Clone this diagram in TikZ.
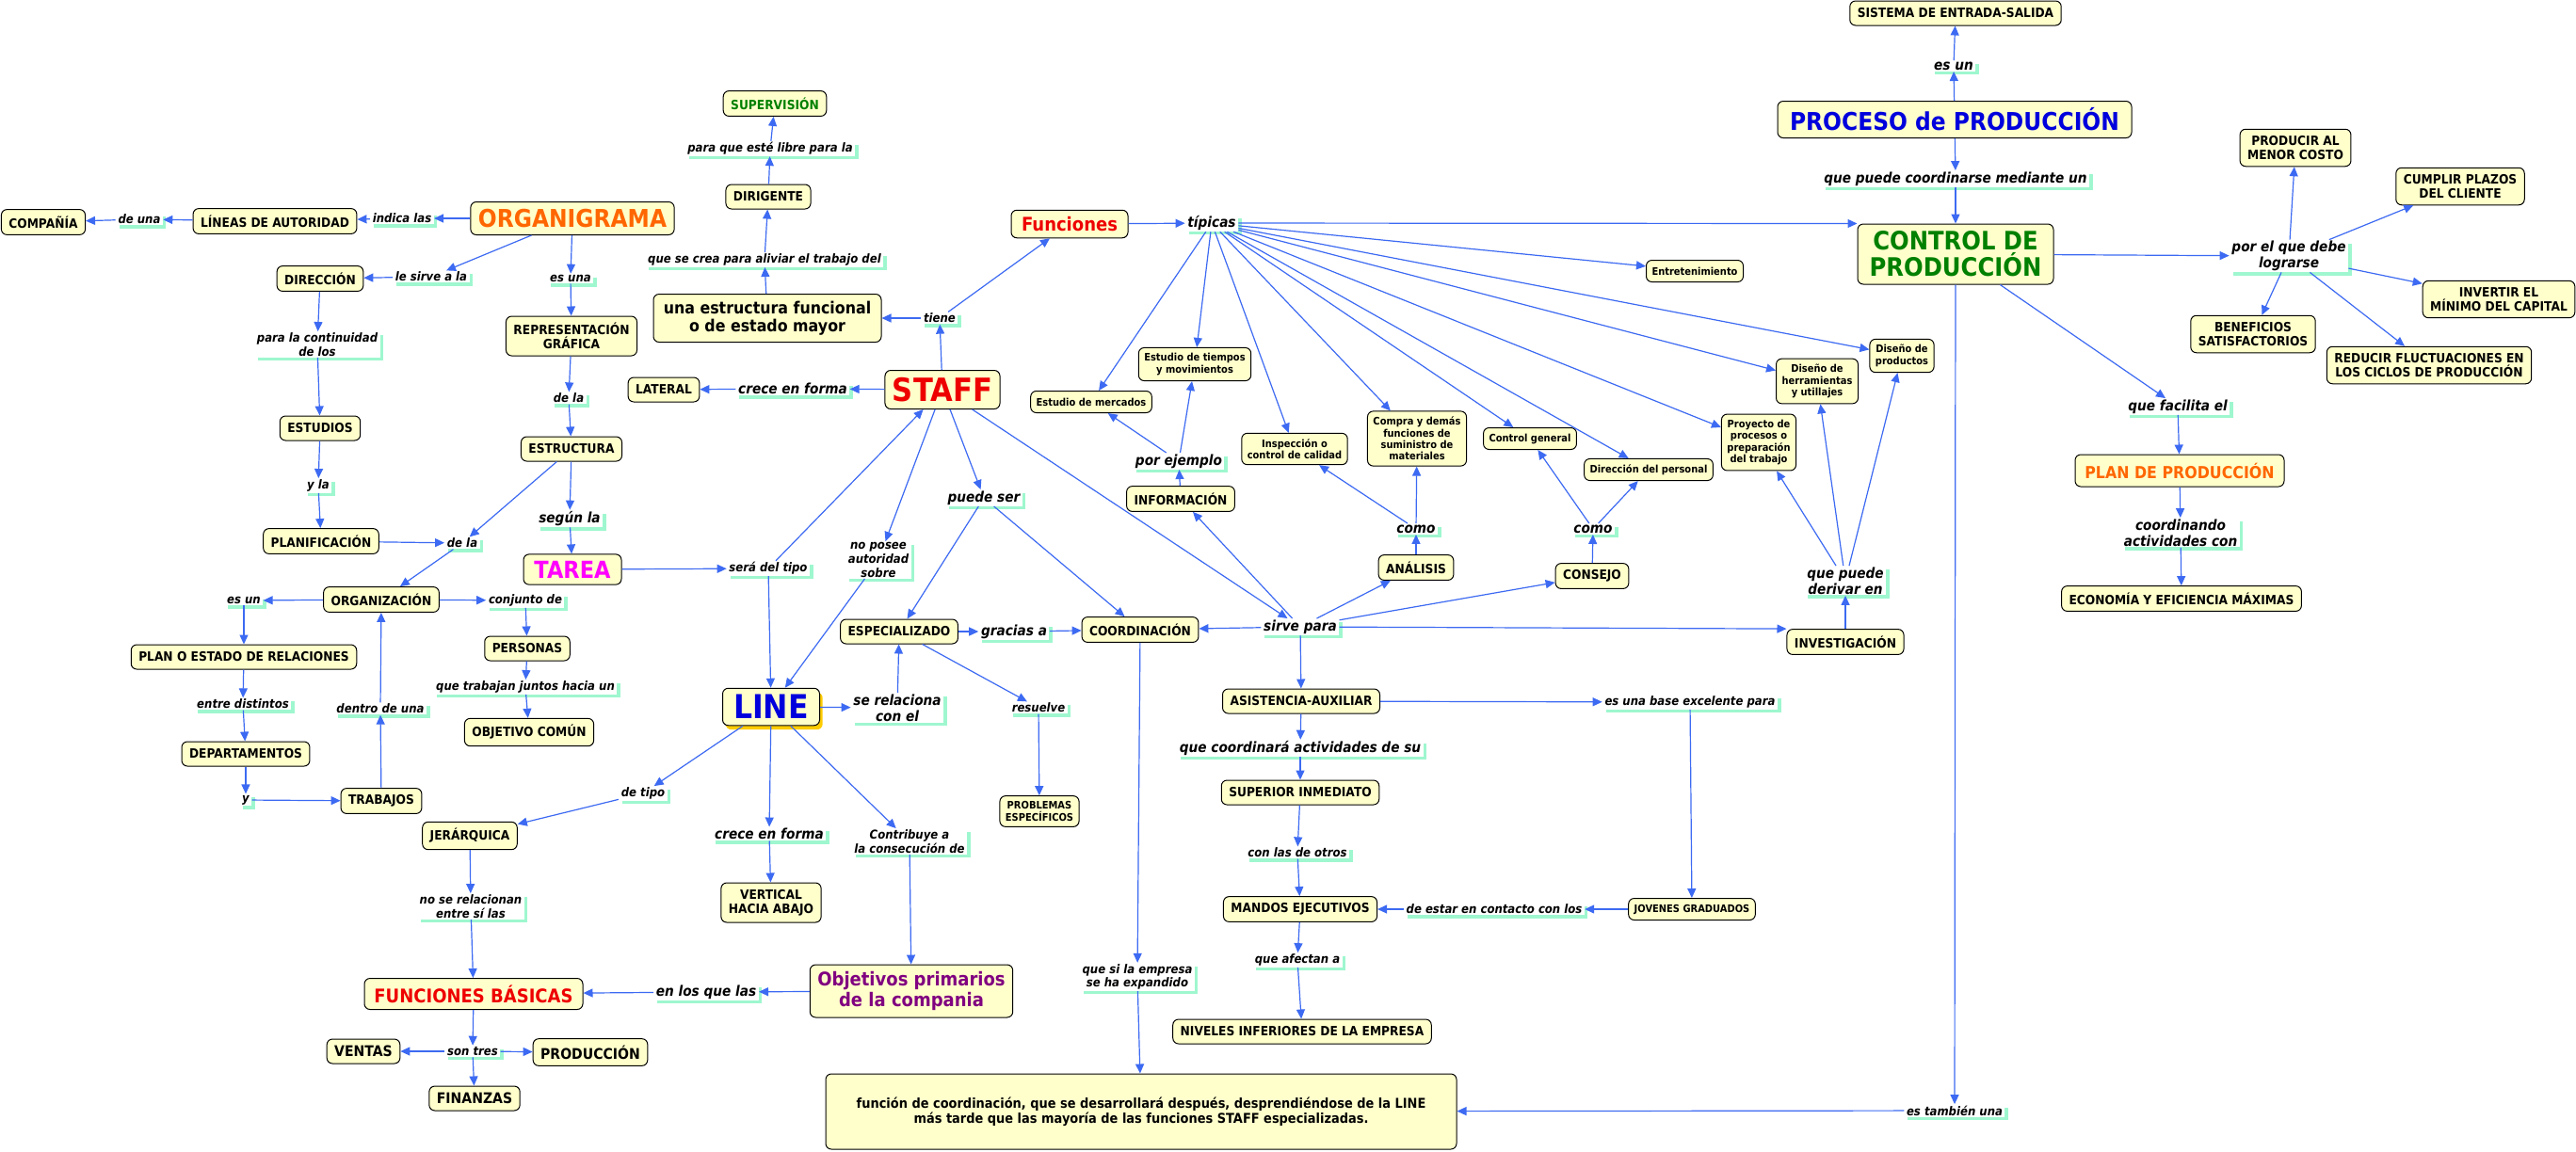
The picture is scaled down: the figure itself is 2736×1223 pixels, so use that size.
\documentclass[tikz,border=0pt]{standalone}
\usepackage{fontspec}
\setmainfont{DejaVu Sans}[FakeStretch=0.9]
\usepackage{xcolor}
\usepackage{tikz}
\usetikzlibrary{arrows.meta,shadows}
\definecolor{conc}{HTML}{FFFFCC}
\definecolor{mintc}{HTML}{9FF7CF}
\definecolor{arrc}{HTML}{3D6AF2}
\definecolor{orgc}{HTML}{FF6600}
\definecolor{redc}{HTML}{EE0000}
\definecolor{bluec}{HTML}{0000DD}
\definecolor{greenc}{HTML}{008000}
\definecolor{tareac}{HTML}{FF00FF}
\definecolor{objc}{HTML}{800080}
\definecolor{goldc}{HTML}{FFCC00}

\begin{document}
\begin{tikzpicture}[
    x=0.5pt, y=-0.5pt,
    concept/.style={
      draw, line width=0.5pt, fill=conc, rounded corners=3pt, align=center,
      inner xsep=4pt, inner ysep=3.5pt, minimum height=13pt,
      font=\bfseries\fontsize{6.8}{7.6}\selectfont},
    minor/.style={
      concept, inner xsep=3pt, inner ysep=3pt, minimum height=11.5pt,
      font=\bfseries\fontsize{5.5}{6.2}\selectfont},
    link/.style={
      fill=white, align=center, inner xsep=1.2pt, inner ysep=0.6pt,
      font=\bfseries\itshape\fontsize{6.5}{7.3}\selectfont,
      drop shadow={shadow xshift=1.8pt, shadow yshift=-1.8pt, fill=mintc, opacity=1}},
    biglink/.style={link, font=\bfseries\itshape\fontsize{7.6}{8.4}\selectfont},
    rel/.style={draw=arrc, line width=0.6pt, -{Triangle[length=5pt, width=4.5pt]}}
  ]
  \useasboundingbox[fill=white] (0,0) rectangle (2736,1223);

  % --- organigrama
  \node[concept, text=orgc, font=\bfseries\fontsize{13}{14}\selectfont, minimum height=17.5pt]
    (organigrama) at (608,232) {ORGANIGRAMA};
  \node[link] (indica) at (427,232) {indica las};
  \node[concept] (lineas) at (292,235) {LÍNEAS DE AUTORIDAD};
  \node[link] (deuna) at (148,233) {de una};
  \node[concept] (compania) at (46,236) {COMPAÑÍA};
  \node[link] (lesirve) at (458,294) {le sirve a la};
  \node[concept] (direccion) at (340,296) {DIRECCIÓN};
  \node[link] (esuna) at (606,296) {es una};
  \node[concept] (representacion) at (607,357) {REPRESENTACIÓN\\GRÁFICA};
  \node[link] (dela1) at (604,423) {de la};
  \node[concept] (estructura) at (607,477) {ESTRUCTURA};
  \node[biglink] (segun) at (605,551) {según la};
  \node[concept, text=tareac, font=\bfseries\fontsize{12.5}{13.5}\selectfont,
    minimum width=52pt, minimum height=16pt] (tarea) at (608,605) {TAREA};
  \node[link] (continuidad) at (337,366) {para la continuidad\\de los};
  \node[concept] (estudios) at (340,455) {ESTUDIOS};
  \node[link] (yla) at (338,516) {y la};
  \node[concept] (planificacion) at (341,575) {PLANIFICACIÓN};
  \node[link] (dela2) at (491,577) {de la};
  \node[concept] (organizacion) at (405,637) {ORGANIZACIÓN};
  \node[link] (esun2) at (259,638) {es un};
  \node[concept] (planrel) at (259,698) {PLAN O ESTADO DE RELACIONES};
  \node[link] (entre) at (258,748) {entre distintos};
  \node[concept] (departamentos) at (261,801) {DEPARTAMENTOS};
  \node[link] (yy) at (261,850) {y};
  \node[concept] (trabajos) at (405,851) {TRABAJOS};
  \node[link] (dentro) at (404,753) {dentro de una};
  \node[link] (conjunto) at (558,638) {conjunto de};
  \node[concept] (personas) at (560,689) {PERSONAS};
  \node[link] (trabajan) at (558,730) {que trabajan juntos hacia un};
  \node[concept] (objcomun) at (562,778) {OBJETIVO COMÚN};

  % --- staff
  \node[concept, text=redc, font=\bfseries\fontsize{17}{18}\selectfont, minimum height=20.5pt]
    (staff) at (1001,414) {STAFF};
  \node[link] (tiene) at (998,338) {tiene};
  \node[concept, font=\bfseries\fontsize{8.8}{9.7}\selectfont, minimum width=121pt,
    minimum height=25.5pt] (estructfun) at (815,338) {una estructura funcional\\o de estado mayor};
  \node[link] (aliviar) at (812,276) {que se crea para aliviar el trabajo del};
  \node[concept] (dirigente) at (816,209) {DIRIGENTE};
  \node[link] (libre) at (818,158) {para que esté libre para la};
  \node[concept, text=greenc] (supervision) at (823,110) {SUPERVISIÓN};
  \node[biglink] (crecelat) at (842,413) {crece en forma};
  \node[concept] (lateral) at (705,414) {LATERAL};
  \node[biglink] (puedeser) at (1045,529) {puede ser};
  \node[link] (noposee) at (933,595) {no posee\\autoridad\\sobre};
  \node[concept] (especializado) at (955,671) {ESPECIALIZADO};
  \node[biglink] (gracias) at (1077,671) {gracias a};
  \node[concept] (coordinacion) at (1211,669) {COORDINACIÓN};
  \node[biglink] (sirve) at (1381,666) {sirve para};
  \node[concept] (informacion) at (1254,530) {INFORMACIÓN};
  \node[biglink] (porejemplo) at (1252,490) {por ejemplo};
  \node[concept] (analisis) at (1504,603) {ANÁLISIS};
  \node[biglink] (como1) at (1504,562) {como};
  \node[concept] (consejo) at (1691,612) {CONSEJO};
  \node[biglink] (como2) at (1692,562) {como};
  \node[concept] (investigacion) at (1960,682) {INVESTIGACIÓN};
  \node[biglink] (derivar) at (1960,617) {que puede\\derivar en};
  \node[link] (resuelve) at (1103,752) {resuelve};
  \node[minor] (problemas) at (1104,862) {PROBLEMAS\\ESPECÍFICOS};
  \node[link] (quesi) at (1208,1038) {que si la empresa\\se ha expandido};
  \node[concept, font=\bfseries\fontsize{7.2}{8}\selectfont, minimum width=335pt,
    minimum height=40pt] (funcion) at (1212,1181)
    {función de coordinación, que se desarrollará después, desprendiéndose de la LINE\\más tarde que las mayoría de las funciones STAFF especializadas.};
  \node[concept] (asistencia) at (1382,745) {ASISTENCIA-AUXILIAR};
  \node[link] (basexc) at (1795,746) {es una base excelente para};
  \node[minor] (jovenes) at (1797,966) {JOVENES GRADUADOS};
  \node[link] (contacto) at (1587,966) {de estar en contacto con los};
  \node[biglink] (coordinara) at (1381,795) {que coordinará actividades de su};
  \node[concept] (superior) at (1381,842) {SUPERIOR INMEDIATO};
  \node[link] (conlas) at (1378,906) {con las de otros};
  \node[concept] (mandos) at (1381,966) {MANDOS EJECUTIVOS};
  \node[link] (afectan) at (1378,1020) {que afectan a};
  \node[concept] (niveles) at (1383,1096) {NIVELES INFERIORES DE LA EMPRESA};

  % --- funciones tipicas
  \node[concept, text=redc, font=\bfseries\fontsize{10}{11}\selectfont, minimum width=62pt,
    minimum height=14.5pt] (funciones) at (1136,238) {Funciones};
  \node[biglink] (tipicas) at (1287,237) {típicas};
  \node[minor] (entret) at (1800,288) {Entretenimiento};
  \node[minor] (disprod) at (2020,378) {Diseño de\\productos};
  \node[minor] (disherr) at (1930,405) {Diseño de\\herramientas\\y utillajes};
  \node[minor] (proyecto) at (1868,470) {Proyecto de\\procesos o\\preparación\\del trabajo};
  \node[minor] (dirpers) at (1751,499) {Dirección del personal};
  \node[minor] (ctrlgen) at (1625,466) {Control general};
  \node[minor] (compra) at (1505,466) {Compra y demás\\funciones de\\suministro de\\materiales};
  \node[minor] (inspeccion) at (1375,477) {Inspección o\\control de calidad};
  \node[minor] (tiempos) at (1269,387) {Estudio de tiempos\\y movimientos};
  \node[minor] (mercados) at (1159,427) {Estudio de mercados};

  % --- line
  \node[link] (seratipo) at (816,604) {será del tipo};
  \node[concept, text=bluec, font=\bfseries\fontsize{17.5}{18.5}\selectfont,
    minimum width=51.5pt, minimum height=19pt,
    drop shadow={shadow xshift=1.6pt, shadow yshift=-2.2pt, fill=goldc, opacity=1}]
    (lineb) at (819,751) {LINE};
  \node[biglink] (serelaciona) at (953,752) {se relaciona\\con el};
  \node[link] (detipo) at (683,843) {de tipo};
  \node[concept] (jerarquica) at (499,888) {JERÁRQUICA};
  \node[link] (noserel) at (500,963) {no se relacionan\\entre sí las};
  \node[concept, text=redc, font=\bfseries\fontsize{10}{11}\selectfont, minimum width=116pt,
    minimum height=16.5pt] (funbas) at (503,1056) {FUNCIONES BÁSICAS};
  \node[link] (sontres) at (502,1117) {son tres};
  \node[concept, font=\bfseries\fontsize{7.8}{8.6}\selectfont] (ventas) at (386,1117) {VENTAS};
  \node[concept, font=\bfseries\fontsize{7.8}{8.6}\selectfont] (produccion) at (627,1118) {PRODUCCIÓN};
  \node[concept, font=\bfseries\fontsize{7.8}{8.6}\selectfont] (finanzas) at (504,1167) {FINANZAS};
  \node[biglink] (crecevert) at (817,886) {crece en forma};
  \node[concept] (vertical) at (819,959) {VERTICAL\\HACIA ABAJO};
  \node[link] (contribuye) at (966,894) {Contribuye a\\la consecución de};
  \node[concept, text=objc, font=\bfseries\fontsize{10}{11.3}\selectfont, minimum width=107pt,
    minimum height=27pt] (objetivos) at (968,1053) {Objetivos primarios\\de la compania};
  \node[biglink] (enlosque) at (750,1054) {en los que las};

  % --- proceso de produccion
  \node[concept] (sistema) at (2077,14) {SISTEMA DE ENTRADA-SALIDA};
  \node[biglink] (esun1) at (2075,70) {es un};
  \node[concept, text=bluec, font=\bfseries\fontsize{13}{14}\selectfont, minimum width=188pt,
    minimum height=19.5pt] (proceso) at (2076,127) {PROCESO de PRODUCCIÓN};
  \node[biglink] (puedecoord) at (2077,190) {que puede coordinarse mediante un};
  \node[concept, text=greenc, font=\bfseries\fontsize{13.5}{14}\selectfont, minimum width=104pt,
    minimum height=32pt] (control) at (2077,270) {CONTROL DE\\PRODUCCIÓN};
  \node[biglink] (porelque) at (2431,272) {por el que debe\\lograrse};
  \node[concept] (producir) at (2438,157) {PRODUCIR AL\\MENOR COSTO};
  \node[concept] (cumplir) at (2613,198) {CUMPLIR PLAZOS\\DEL CLIENTE};
  \node[concept] (invertir) at (2654,318) {INVERTIR EL\\MÍNIMO DEL CAPITAL};
  \node[concept] (beneficios) at (2393,355) {BENEFICIOS\\SATISFACTORIOS};
  \node[concept] (reducir) at (2580,388) {REDUCIR FLUCTUACIONES EN\\LOS CICLOS DE PRODUCCIÓN};
  \node[biglink] (facilita) at (2313,432) {que facilita el};
  \node[concept, text=orgc, font=\bfseries\fontsize{8.8}{9.6}\selectfont, minimum width=111pt,
    minimum height=17pt] (planprod) at (2315,500) {PLAN DE PRODUCCIÓN};
  \node[biglink] (coordinando) at (2316,566) {coordinando\\actividades con};
  \node[concept] (economia) at (2317,636) {ECONOMÍA Y EFICIENCIA MÁXIMAS};
  \node[link] (tambien) at (2076,1180) {es también una};

  % --- flows: organigrama
  \draw[rel] (organigrama) -- (indica);
  \draw[rel] (indica) -- (lineas);
  \draw[rel] (lineas) -- (deuna);
  \draw[rel] (deuna) -- (compania);
  \draw[rel] (organigrama) -- (lesirve);
  \draw[rel] (lesirve) -- (direccion);
  \draw[rel] (organigrama) -- (esuna);
  \draw[rel] (esuna) -- (representacion);
  \draw[rel] (representacion) -- (dela1);
  \draw[rel] (dela1) -- (estructura);
  \draw[rel] (estructura) -- (segun);
  \draw[rel] (segun) -- (tarea);
  \draw[rel] (estructura) -- (dela2);
  \draw[rel] (planificacion) -- (dela2);
  \draw[rel] (dela2) -- (organizacion);
  \draw[rel] (direccion) -- (continuidad);
  \draw[rel] (continuidad) -- (estudios);
  \draw[rel] (estudios) -- (yla);
  \draw[rel] (yla) -- (planificacion);
  \draw[rel] (organizacion) -- (esun2);
  \draw[rel] (esun2) -- (planrel);
  \draw[rel] (planrel) -- (entre);
  \draw[rel] (entre) -- (departamentos);
  \draw[rel] (departamentos) -- (yy);
  \draw[rel] (yy) -- (trabajos);
  \draw[rel] (trabajos) -- (dentro);
  \draw[rel] (dentro) -- (organizacion);
  \draw[rel] (organizacion) -- (conjunto);
  \draw[rel] (conjunto) -- (personas);
  \draw[rel] (personas) -- (trabajan);
  \draw[rel] (trabajan) -- (objcomun);
  \draw[rel] (tarea) -- (seratipo);
  \draw[rel] (seratipo) -- (staff);
  \draw[rel] (seratipo) -- (lineb);

  % --- flows: staff
  \draw[rel] (staff) -- (tiene);
  \draw[rel] (tiene) -- (estructfun);
  \draw[rel] (tiene) -- (funciones);
  \draw[rel] (estructfun) -- (aliviar);
  \draw[rel] (aliviar) -- (dirigente);
  \draw[rel] (dirigente) -- (libre);
  \draw[rel] (libre) -- (supervision);
  \draw[rel] (staff) -- (crecelat);
  \draw[rel] (crecelat) -- (lateral);
  \draw[rel] (staff) -- (noposee);
  \draw[rel] (noposee) -- (lineb);
  \draw[rel] (staff) -- (puedeser);
  \draw[rel] (puedeser) -- (especializado);
  \draw[rel] (puedeser) -- (coordinacion);
  \draw[rel] (staff) -- (sirve);
  \draw[rel] (sirve) -- (coordinacion);
  \draw[rel] (sirve) -- (informacion);
  \draw[rel] (sirve) -- (analisis);
  \draw[rel] (sirve) -- (consejo);
  \draw[rel] (sirve) -- (investigacion.north west);
  \draw[rel] (sirve) -- (asistencia);
  \draw[rel] (especializado) -- (gracias);
  \draw[rel] (gracias) -- (coordinacion);
  \draw[rel] (especializado) -- (resuelve);
  \draw[rel] (resuelve) -- (problemas);
  \draw[rel] (coordinacion) -- (quesi);
  \draw[rel] (quesi) -- (funcion);
  \draw[rel] (informacion) -- (porejemplo);
  \draw[rel] (porejemplo) -- (mercados);
  \draw[rel] (porejemplo) -- (tiempos);
  \draw[rel] (analisis) -- (como1);
  \draw[rel] (como1) -- (inspeccion);
  \draw[rel] (como1) -- (compra);
  \draw[rel] (consejo) -- (como2);
  \draw[rel] (como2) -- (ctrlgen);
  \draw[rel] (como2) -- (dirpers);
  \draw[rel] (investigacion) -- (derivar);
  \draw[rel] (derivar) -- (proyecto);
  \draw[rel] (derivar) -- (disherr);
  \draw[rel] (derivar) -- (disprod);
  \draw[rel] (asistencia) -- (basexc);
  \draw[rel] (basexc) -- (jovenes);
  \draw[rel] (jovenes) -- (contacto);
  \draw[rel] (contacto) -- (mandos);
  \draw[rel] (asistencia) -- (coordinara);
  \draw[rel] (coordinara) -- (superior);
  \draw[rel] (superior) -- (conlas);
  \draw[rel] (conlas) -- (mandos);
  \draw[rel] (mandos) -- (afectan);
  \draw[rel] (afectan) -- (niveles);

  % --- flows: funciones tipicas
  \draw[rel] (funciones) -- (tipicas);
  \draw[rel] (tipicas) -- (mercados);
  \draw[rel] (tipicas) -- (tiempos);
  \draw[rel] (tipicas) -- (inspeccion);
  \draw[rel] (tipicas) -- (compra);
  \draw[rel] (tipicas) -- (ctrlgen);
  \draw[rel] (tipicas) -- (dirpers);
  \draw[rel] (tipicas) -- (proyecto);
  \draw[rel] (tipicas) -- (disherr);
  \draw[rel] (tipicas) -- (disprod);
  \draw[rel] (tipicas) -- (entret);
  \draw[rel] (tipicas) -- (control.north west);

  % --- flows: line
  \draw[rel] (lineb) -- (serelaciona);
  \draw[rel] (serelaciona) -- (especializado);
  \draw[rel] (lineb) -- (detipo);
  \draw[rel] (detipo) -- (jerarquica);
  \draw[rel] (jerarquica) -- (noserel);
  \draw[rel] (noserel) -- (funbas);
  \draw[rel] (funbas) -- (sontres);
  \draw[rel] (sontres) -- (ventas);
  \draw[rel] (sontres) -- (produccion);
  \draw[rel] (sontres) -- (finanzas);
  \draw[rel] (lineb) -- (crecevert);
  \draw[rel] (crecevert) -- (vertical);
  \draw[rel] (lineb) -- (contribuye);
  \draw[rel] (contribuye) -- (objetivos);
  \draw[rel] (objetivos) -- (enlosque);
  \draw[rel] (enlosque) -- (funbas);

  % --- flows: proceso de produccion
  \draw[rel] (proceso) -- (esun1);
  \draw[rel] (esun1) -- (sistema);
  \draw[rel] (proceso) -- (puedecoord);
  \draw[rel] (puedecoord) -- (control);
  \draw[rel] (control) -- (porelque);
  \draw[rel] (porelque) -- (producir);
  \draw[rel] (porelque) -- (cumplir);
  \draw[rel] (porelque) -- (invertir);
  \draw[rel] (porelque) -- (beneficios);
  \draw[rel] (porelque) -- (reducir);
  \draw[rel] (control) -- (facilita);
  \draw[rel] (facilita) -- (planprod);
  \draw[rel] (planprod) -- (coordinando);
  \draw[rel] (coordinando) -- (economia);
  \draw[rel] (control) -- (tambien);
  \draw[rel] (tambien) -- (funcion);

\end{tikzpicture}
\end{document}
